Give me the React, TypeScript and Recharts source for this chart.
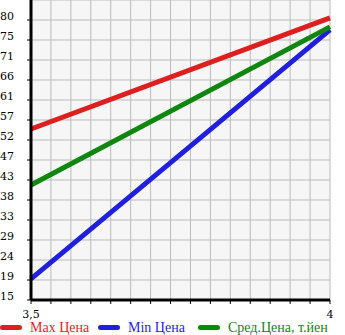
import { LineChart, Line, XAxis, YAxis, CartesianGrid, Legend } from 'recharts';

const engineVolumes = [3.5, 4];
const maxPrice = [54.7, 80.5];
const minPrice = [19.9, 77.7];
const avgPrice = [41.7, 78.4];

const yTickLabels = ['15', '19', '24', '29', '33', '38', '43', '47', '52', '57', '61', '66', '71', '75', '80'];
const xTickLabels = ['3,5', '4'];

const SERIES = [
    { key: 'max', name: 'Max Цена', color: '#dd1f1f', width: 98 },
    { key: 'min', name: 'Min Цена', color: '#1f1fdd', width: 100 },
    { key: 'avg', name: 'Сред.Цена, т.йен', color: '#0f870f', width: 147 },
];

const Y_MIN = 15;
const Y_STEP = 65 / 14;
const Y_TICKS = yTickLabels.map((_, i) => Y_MIN + i * Y_STEP);
const Y_MAX = Y_MIN + 15 * Y_STEP;

const X_TICKS = Array.from({ length: 16 }, (_, i) => 3.5 + (i * 0.5) / 15);

const data = engineVolumes.map((x, i) => ({
    x,
    max: maxPrice[i],
    min: minPrice[i],
    avg: avgPrice[i],
}));

const YTick = ({ y, index }: any) => (
    <text x={0} y={y - 4} dominantBaseline="central" textAnchor="start"
        style={{ fontFamily: 'DejaVu Serif', fontSize: 11, fill: '#000' }}>
        {yTickLabels[index]}
    </text>
);

const XTick = ({ x, y, index }: any) => {
    let label = '';
    if (index === 0) label = xTickLabels[0];
    if (index === X_TICKS.length - 1) label = xTickLabels[1];
    if (!label) return null;
    return (
        <text x={x} y={y + 8} textAnchor="middle" dominantBaseline="central"
            style={{ fontFamily: 'DejaVu Serif', fontSize: 11, fill: '#000' }}>
            {label}
        </text>
    );
};

const CustomLegend = () => (
    <div style={{ display: 'flex', alignItems: 'center', height: 15, fontFamily: '"Liberation Serif", serif', fontSize: 14 }}>
        {SERIES.map((s) => (
            <div key={s.key} style={{ display: 'flex', alignItems: 'center', width: s.width, flexShrink: 0 }}>
                <div style={{ width: 22, height: 5, borderRadius: 3, background: s.color, marginRight: 8, flexShrink: 0 }} />
                <span style={{ color: s.color, whiteSpace: 'nowrap' }}>{s.name}</span>
            </div>
        ))}
    </div>
);

export default function App() {
    return (
        <div style={{ position: 'absolute', left: 0, top: 0, width: 345, height: 335, background: '#fff' }}>
            <LineChart width={345} height={335} data={data} margin={{ top: 0, right: 15, bottom: 0, left: 0 }}>
                <CartesianGrid stroke="#bbbbbb" fill="#f6f6f6" strokeWidth={1} />
                <XAxis
                    dataKey="x"
                    type="number"
                    domain={[3.5, 4]}
                    ticks={X_TICKS}
                    interval={0}
                    height={20}
                    axisLine={{ stroke: '#000', strokeWidth: 3 }}
                    tickLine={{ stroke: '#000' }}
                    tickSize={4}
                    tick={<XTick />}
                />
                <YAxis
                    type="number"
                    domain={[Y_MIN, Y_MAX]}
                    ticks={Y_TICKS}
                    interval={0}
                    width={31}
                    axisLine={{ stroke: '#000', strokeWidth: 3 }}
                    tickLine={{ stroke: '#000' }}
                    tickSize={4}
                    tick={<YTick />}
                />
                {SERIES.map((s) => (
                    <Line
                        key={s.key}
                        dataKey={s.key}
                        name={s.name}
                        stroke={s.color}
                        strokeWidth={5}
                        dot={false}
                        activeDot={false}
                        isAnimationActive={false}
                    />
                ))}
                <Legend verticalAlign="bottom" align="left" height={15} content={<CustomLegend />} wrapperStyle={{ left: 0, bottom: 0 }} />
            </LineChart>
        </div>
    );
}
